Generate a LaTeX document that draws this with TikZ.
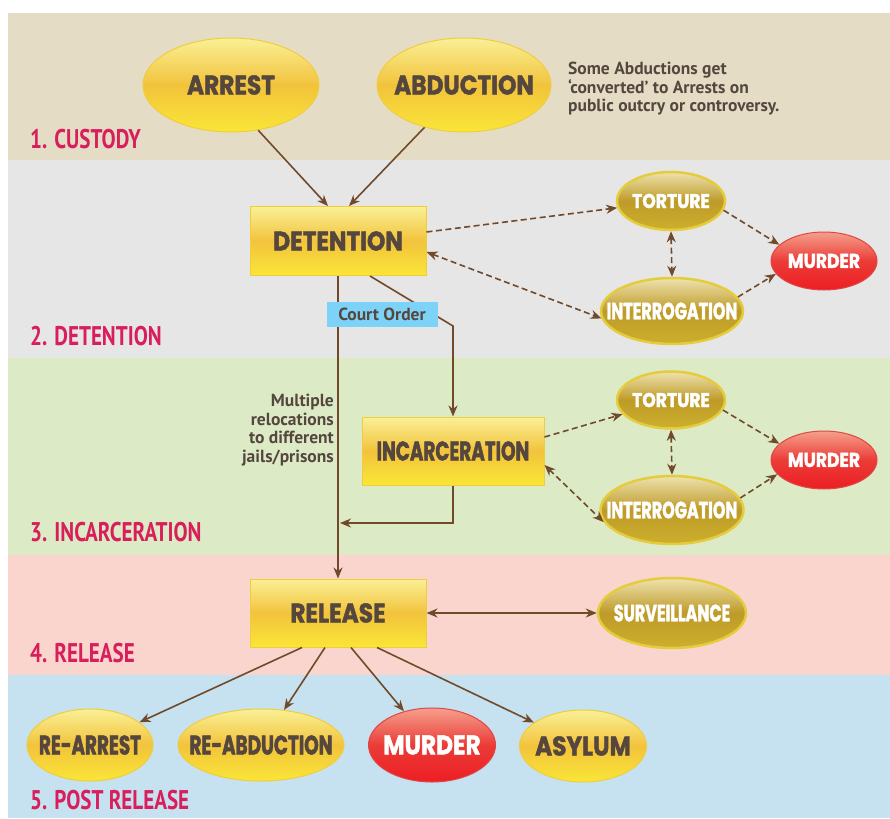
\documentclass[tikz,border=0pt]{standalone}
\usepackage{fontspec}
\usepackage{tikz}
\usetikzlibrary{arrows.meta,positioning,shapes.geometric}
\newfontfamily\capsfont[FakeStretch=0.86, BoldFeatures={FakeBold=1.6}]{Poppins}
\newfontfamily\narrowfont[FakeStretch=0.68, BoldFeatures={FakeBold=1.6}]{Poppins}
\newfontfamily\headfont[FakeStretch=0.78]{PT Sans}
\newfontfamily\notefont{PT Sans}
\definecolor{custodybg}{RGB}{229,220,197}
\definecolor{detentionbg}{RGB}{230,230,230}
\definecolor{incarbg}{RGB}{220,235,198}
\definecolor{releasebg}{RGB}{250,213,205}
\definecolor{postbg}{RGB}{198,226,240}
\definecolor{stagered}{RGB}{216,30,91}
\definecolor{darktext}{RGB}{85,70,62}
\definecolor{arrowbrown}{RGB}{112,74,42}
\definecolor{ylwtop}{RGB}{250,240,150}
\definecolor{ylwmid}{RGB}{242,195,60}
\definecolor{ylwbot}{RGB}{250,230,55}
\definecolor{ylwrim}{RGB}{240,205,60}
\definecolor{olvtop}{RGB}{238,226,175}
\definecolor{olvmid}{RGB}{190,155,40}
\definecolor{olvbot}{RGB}{205,175,45}
\definecolor{olvrim}{RGB}{228,204,60}
\definecolor{redtop}{RGB}{245,160,140}
\definecolor{redmid}{RGB}{235,60,55}
\definecolor{redbot}{RGB}{236,30,36}
\definecolor{redrim}{RGB}{225,70,70}
\definecolor{courtblue}{RGB}{125,211,247}

\begin{document}
\begin{tikzpicture}[->, >={Stealth[length=11pt,width=9pt,inset=3.5pt]}, x=1pt, y=-1pt]
\tikzstyle{bigcaps}=[font=\capsfont\bfseries\fontsize{27}{30}\selectfont]
\tikzstyle{tightcaps}=[font=\narrowfont\bfseries\fontsize{27}{30}\selectfont]
\tikzstyle{midcaps}=[font=\narrowfont\bfseries\fontsize{23.5}{28}\selectfont]
\tikzstyle{smallcaps}=[font=\capsfont\bfseries\fontsize{20}{24}\selectfont]
\tikzstyle{stagebox}=[rectangle, draw=ylwrim, line width=1pt, top color=ylwtop, bottom color=ylwbot, middle color=ylwmid, text=darktext]
\tikzstyle{yellowoval}=[ellipse, inner xsep=-30pt, inner ysep=0pt, draw=ylwrim, line width=1pt, top color=ylwtop, bottom color=ylwbot, middle color=ylwmid, text=darktext]
\tikzstyle{oliveoval}=[ellipse, inner xsep=-30pt, inner ysep=0pt, draw=olvrim, line width=2.5pt, top color=olvtop, bottom color=olvbot, middle color=olvmid, text=white]
\tikzstyle{redoval}=[ellipse, inner xsep=-30pt, inner ysep=0pt, draw=redrim, line width=1pt, top color=redtop, bottom color=redbot, middle color=redmid, text=white]
\tikzstyle{stagelabel}=[anchor=west, inner sep=0pt, text=stagered, font=\headfont\bfseries\fontsize{27}{30}\selectfont]
\tikzstyle{note}=[inner sep=0pt, text=darktext, font=\notefont\bfseries\fontsize{17.5}{18.5}\selectfont]
\tikzstyle{flow}=[draw=arrowbrown, line width=1.6pt]
\tikzstyle{maybe}=[flow, dash pattern=on 6pt off 3.5pt]

% stage bands
\useasboundingbox (0,0) rectangle (890,818);
\fill[-, custodybg]   (8,13)  rectangle (890,160);
\fill[-, detentionbg] (8,160) rectangle (890,358);
\fill[-, incarbg]     (8,358) rectangle (890,555);
\fill[-, releasebg]   (8,555) rectangle (890,675);
\fill[-, postbg]      (8,675) rectangle (890,818);

\node[stagelabel] (lcust) at (30,139) {1. CUSTODY};
\node[stagelabel] (ldet)  at (30,336) {2. DETENTION};
\node[stagelabel] (linc)  at (30,532) {3. INCARCERATION};
\node[stagelabel] (lrel)  at (30,653) {4. RELEASE};
\node[stagelabel] (lpost) at (30,800) {5. POST RELEASE};

% custody
\node[yellowoval, bigcaps, minimum width=176pt, minimum height=94pt] (arrest) at (231,85) {ARREST};
\node[yellowoval, bigcaps, minimum width=174pt, minimum height=94pt] (abduct) at (464,85) {ABDUCTION};
\node[note, anchor=west, align=left] (convnote) at (568,89) {Some Abductions get\\‘converted’ to Arrests on\\public outcry or controversy.};

% detention
\node[stagebox, bigcaps, minimum width=176pt, minimum height=69pt] (det) at (338,241) {DETENTION};
\node[oliveoval, smallcaps, minimum width=108pt, minimum height=58pt] (tort1) at (671,201) {TORTURE};
\node[oliveoval, midcaps, minimum width=142pt, minimum height=66pt] (inter1) at (672,311) {INTERROGATION};
\node[redoval, smallcaps, minimum width=106pt, minimum height=58pt] (murd1) at (824,261) {MURDER};

% incarceration
\begin{scope}[node distance=199pt]
\node[stagebox, tightcaps, minimum width=182pt, minimum height=68pt] (inc) at (453,451) {INCARCERATION};
\node[oliveoval, smallcaps, minimum width=108pt, minimum height=57pt] (tort2) [below of=tort1] {TORTURE};
\node[oliveoval, midcaps, minimum width=143pt, minimum height=68pt] (inter2) [below of=inter1] {INTERROGATION};
\node[redoval, smallcaps, minimum width=106pt, minimum height=58pt] (murd2) [below of=murd1] {MURDER};
\end{scope}
\node[note, anchor=east, align=right] (reloc) at (334,430) {Multiple\\relocations\\to different\\jails/prisons};

% release and after
\node[stagebox, bigcaps, minimum width=176pt, minimum height=68pt] (rel) at (338,613) {RELEASE};
\node[oliveoval, midcaps, minimum width=148pt, minimum height=70pt] (surv) at (672,613) {SURVEILLANCE};
\node[yellowoval, tightcaps, minimum width=126pt, minimum height=72pt] (rearr) at (90,745) {RE-ARREST};
\node[yellowoval, tightcaps, minimum width=166pt, minimum height=72pt] (reabd) at (261,745) {RE-ABDUCTION};
\node[redoval, bigcaps, minimum width=127pt, minimum height=74pt] (murd3) at (432,745) {MURDER};
\node[yellowoval, bigcaps, minimum width=127pt, minimum height=72pt] (asyl) at (583,746) {ASYLUM};

% court order route
\coordinate (crt) at (453,326);
\coordinate (back) at (340,523);
\draw[flow] (det.south) -- (rel.north);
\draw[flow] ([xshift=32pt]det.south) -- (crt) -- (inc.north);
\draw[flow] (inc.south) |- (back);
\node[-, fill=courtblue, minimum width=111pt, minimum height=25pt, inner sep=0pt, text=darktext, font=\notefont\bfseries\fontsize{17.5}{20}\selectfont] (court) at (382,314) {Court Order};

\path
(arrest.-59) edge[flow] ([xshift=-10pt]det.north)
(abduct.-133) edge[flow] ([xshift=11pt]det.north)
([yshift=9pt]det.east) edge[maybe] (tort1)
([yshift=-11pt]det.east) edge[maybe, <->] (inter1.186)
(tort1.south) edge[maybe, <->] (inter1.north)
(tort1.-10) edge[maybe] (murd1.160)
(inter1.12) edge[maybe] (murd1.195)
([yshift=14pt]inc.east) edge[maybe] (tort2)
([yshift=-14pt]inc.east) edge[maybe, <->] (inter2.190)
(tort2.south) edge[maybe, <->] (inter2.north)
(tort2.-11) edge[maybe] (murd2.160)
(inter2.10) edge[maybe] (murd2.197)
(rel.east) edge[flow, <->] (surv.west)
([xshift=-36pt]rel.south) edge[flow] (rearr)
([xshift=-13pt]rel.south) edge[flow] (reabd)
([xshift=13pt]rel.south) edge[flow] (murd3)
([xshift=39pt]rel.south) edge[flow] (asyl);
\end{tikzpicture}
\end{document}
